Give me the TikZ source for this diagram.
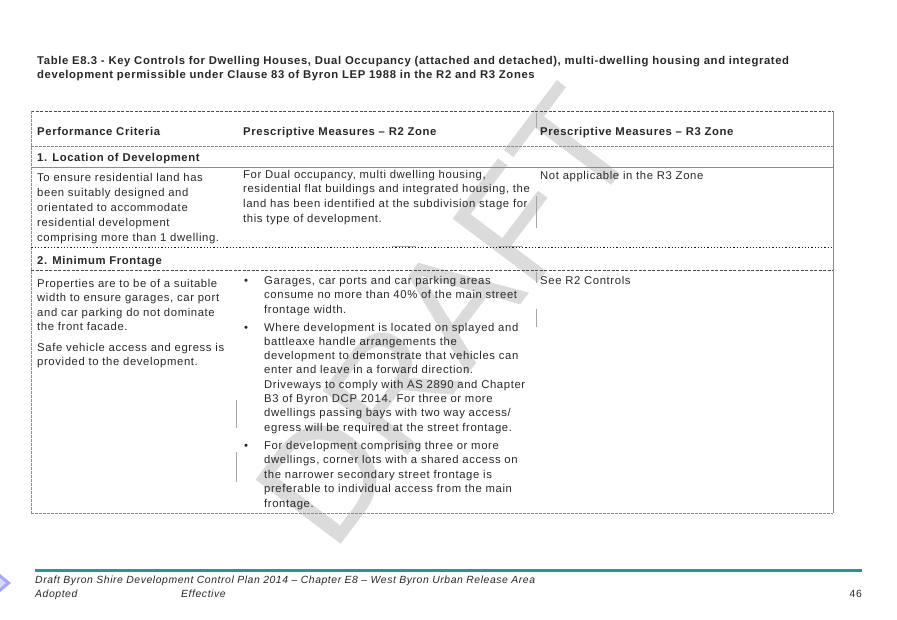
\documentclass[tikz,border=0pt]{standalone}
\usepackage{fontspec}
\setmainfont{Liberation Sans}
\newfontfamily\tabf[LetterSpace=5.5]{Liberation Sans}
\definecolor{teal1}{RGB}{38,150,150}
\definecolor{ink}{RGB}{40,40,40}
\begin{document}
\begin{tikzpicture}[x=1pt,y=-1pt,
  body/.style={anchor=base west,inner sep=0pt,align=left,text=ink,
    font=\tabf\fontsize{11.3}{#1}\selectfont},
  body/.default=15,
  bodyb/.style={body,font=\tabf\bfseries\fontsize{11.3}{#1}\selectfont},
  bodyb/.default=14.5,
  foot/.style={anchor=base west,inner sep=0pt,text=ink,
    font=\tabf\itshape\fontsize{10.4}{14}\selectfont},
  dkdash/.style={draw=black!70,line width=0.7pt,dash pattern=on 3pt off 1.5pt},
  ltdash/.style={draw=black!45,line width=0.7pt,dash pattern=on 3pt off 1pt},
  ltsolid/.style={draw=black!45,line width=0.8pt},
  dkdot/.style={draw=black!90,line width=1pt,dash pattern=on 1.5pt off 2pt on 1pt off 2pt},
  wmark/.style={draw=black!35,line width=1pt},
]
\useasboundingbox (0,0) rectangle (897,619);
% watermark
\node[rotate=53,text=black!14,inner sep=0pt,font=\fontsize{155}{155}\selectfont] (wm) at (446,316) {DRAFT};
\draw[wmark] (536,113) -- (536,128);
\draw[wmark] (536,196) -- (536,228);
\draw[wmark] (536,272) -- (536,283);
\draw[wmark] (536,309) -- (536,327);
\draw[wmark] (236,400) -- (236,428);
\draw[wmark] (236,452) -- (236,482);
\draw[wmark] (392,246) -- (416,246);
\draw[wmark] (498,246) -- (522,246);
% table frame
\coordinate (tl) at (31,111);
\coordinate (tr) at (833,111);
\coordinate (bl) at (31,513);
\coordinate (br) at (833,513);
\draw[dkdash] (tl) -- (tr);
\draw[ltdash] (tl) -- (bl);
\draw[ltsolid] (tr) -- (br);
\draw[ltdash] (bl) -- (br);
\coordinate (h1l) at (31,146); \coordinate (h1r) at (833,146);
\coordinate (h2l) at (31,167); \coordinate (h2r) at (833,167);
\coordinate (h3l) at (31,247); \coordinate (h3r) at (833,247);
\coordinate (h4l) at (31,270); \coordinate (h4r) at (833,270);
\draw[ltdash] (h1l) -- (h1r);
\draw[ltsolid] (h2l) -- (h2r);
\draw[dkdot] (h3l) -- (h3r);
\draw[dkdash] (h4l) -- (h4r);
% title (anchor = baseline of last line)
\node[bodyb=14.5] (title) at (37,78.5) {Table E8.3 - Key Controls for Dwelling Houses, Dual Occupancy (attached and detached), multi-dwelling housing and integrated\\development permissible under Clause 83 of Byron LEP 1988 in the R2 and R3 Zones};
% header
\node[bodyb] (hA) at (37,135) {Performance Criteria};
\node[bodyb] (hB) at (243,135) {Prescriptive Measures – R2 Zone};
\node[bodyb] (hC) at (540,135) {Prescriptive Measures – R3 Zone};
\node[bodyb] (s1) at (37,161) {1. Location of Development};
% row 1
\node[body=15] (r1a) at (37,241) {To ensure residential land has\\been suitably designed and\\orientated to accommodate\\residential development\\comprising more than 1 dwelling.};
\node[body=14.7] (r1b) at (243,222.1) {For Dual occupancy, multi dwelling housing,\\residential flat buildings and integrated housing, the\\land has been identified at the subdivision stage for\\this type of development.};
\node[body] (r1c) at (540,179) {Not applicable in the R3 Zone};
\node[bodyb] (s2) at (37,264) {2. Minimum Frontage};
% row 2
\node[body=14.6] (r2a) at (37,330.8) {Properties are to be of a suitable\\width to ensure garages, car port\\and car parking do not dominate\\the front facade.};
\node[body=14.6] (r2a2) at (37,365.6) {Safe vehicle access and egress is\\provided to the development.};
\node[body] (d1) at (244,284) {•};
\node[body=14.5] (b1) at (264,313) {Garages, car ports and car parking areas\\consume no more than 40\% of the main street\\frontage width.};
\node[body] (d2) at (244,331) {•};
\node[body=14.3] (b2) at (264,431.1) {Where development is located on splayed and\\battleaxe handle arrangements the\\development to demonstrate that vehicles can\\enter and leave in a forward direction.\\Driveways to comply with AS 2890 and Chapter\\B3 of Byron DCP 2014. For three or more\\dwellings passing bays with two way access/\\egress will be required at the street frontage.};
\node[body] (d3) at (244,449) {•};
\node[body=14.6] (b3) at (264,507.4) {For development comprising three or more\\dwellings, corner lots with a shared access on\\the narrower secondary street frontage is\\preferable to individual access from the main\\frontage.};
\node[body] (r2c) at (540,284) {See R2 Controls};
% footer
\coordinate (fl) at (35,570);
\coordinate (fr) at (862,570);
\draw[draw=teal1,line width=3pt] (fl) -- (fr);
\node[foot] (f1) at (35,583) {Draft Byron Shire Development Control Plan 2014 – Chapter E8 – West Byron Urban Release Area};
\node[foot] (f2) at (35,597) {Adopted};
\node[foot] (f3) at (181,597) {Effective};
\node[foot,anchor=base east,font=\tabf\fontsize{10.4}{14}\selectfont] (pg) at (862,597) {46};
% icon
\fill[blue!35] (0,574) -- (11,583) -- (0,592) -- cycle;
\fill[blue!15] (0,578) -- (6,583) -- (0,588) -- cycle;
\end{tikzpicture}
\end{document}
